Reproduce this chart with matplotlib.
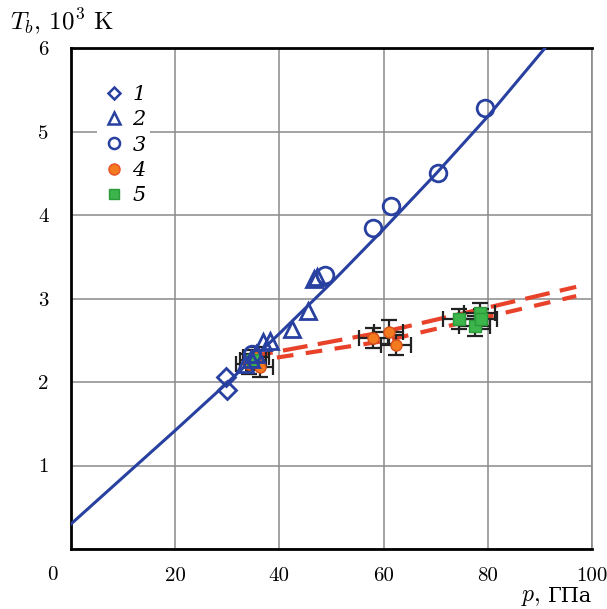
import numpy as np
import matplotlib
matplotlib.use('Agg')
import matplotlib.pyplot as plt
from matplotlib.lines import Line2D

plt.rcParams['font.family'] = ['cmr10', 'DejaVu Serif']
plt.rcParams['mathtext.fontset'] = 'cm'
plt.rcParams['axes.formatter.use_mathtext'] = True

# blue fit curve
fit_p = [0, 10, 20, 30, 40, 50, 60, 70, 80, 91]
fit_T = [0.30, 0.86, 1.42, 1.99, 2.58, 3.19, 3.83, 4.49, 5.18, 6.0]

# series 1 (diamonds)
p1 = [29.8, 29.9]
T1 = [2.06, 1.90]
# series 2 (triangles)
p2 = [33.5, 34.6, 35.5, 36.8, 38.3, 42.4, 45.5, 46.6, 47.3]
T2 = [2.22, 2.28, 2.33, 2.48, 2.49, 2.63, 2.85, 3.24, 3.26]
# series 3 (open circles)
p3 = [34.8, 48.8, 58.0, 61.4, 70.4, 79.5]
T3 = [2.34, 3.28, 3.85, 4.11, 4.50, 5.28]
# series 4 (orange, with errors)
p4 = [34.2, 35.5, 36.3, 58.0, 61.0, 62.4]
T4 = [2.22, 2.30, 2.18, 2.53, 2.60, 2.44]
p4_err = [2.5, 2.5, 2.5, 2.8, 2.8, 2.8]
T4_err = [0.12, 0.12, 0.12, 0.12, 0.14, 0.12]
# series 5 (green, with errors)
p5 = [35.0, 74.5, 77.5, 78.5, 78.7]
T5 = [2.26, 2.75, 2.67, 2.83, 2.76]
p5_err = [2.5, 3.0, 3.0, 3.0, 3.0]
T5_err = [0.12, 0.12, 0.12, 0.12, 0.12]

# red dashed curves
dashA_p = [34, 60, 97]
dashA_T = [2.30, 2.60, 3.14]
dashB_p = [34, 60, 97]
dashB_T = [2.24, 2.49, 3.03]

blue = '#2840a0'
red = '#e8432a'
orange = '#f47a20'
green = '#3cb54a'

fig = plt.figure(figsize=(6.07, 6.09), dpi=100)
ax = fig.add_axes([0.117, 0.0985, 0.858, 0.8225])

ax.plot(fit_p, fit_T, color=blue, lw=2.2, zorder=3)
ax.plot(dashA_p, dashA_T, color=red, lw=3, dashes=(6, 2.5), zorder=3)
ax.plot(dashB_p, dashB_T, color=red, lw=3, dashes=(4, 3), zorder=3)

ax.errorbar(p4, T4, xerr=p4_err, yerr=T4_err, fmt='o', ms=8,
            mfc=orange, mec='#d8501a', ecolor='#222222', elinewidth=1.6,
            capsize=6, capthick=1.6, zorder=4)
ax.errorbar(p5, T5, xerr=p5_err, yerr=T5_err, fmt='s', ms=8,
            mfc=green, mec='#2a9a3a', ecolor='#222222', elinewidth=1.6,
            capsize=6, capthick=1.6, zorder=4)

ax.plot(p1, T1, 'D', ms=9, mfc='none', mec=blue, mew=2, zorder=5)
ax.plot(p2, T2, '^', ms=11, mfc='none', mec=blue, mew=2, zorder=5)
ax.plot(p3, T3, 'o', ms=12, mfc='none', mec=blue, mew=2, zorder=5)

ax.set_xlim(0, 100)
ax.set_ylim(0, 6)
ax.set_xticks([0, 20, 40, 60, 80, 100])
ax.set_xticklabels(['', '20', '40', '60', '80', '100'], fontsize=15)
ax.set_yticks([0, 1, 2, 3, 4, 5, 6])
ax.set_yticklabels(['', '1', '2', '3', '4', '5', '6'], fontsize=15)
ax.tick_params(axis='y', length=0, pad=16)
ax.tick_params(axis='x', length=0, pad=13)
ax.grid(True, color='#8a8a8a', lw=1.1)
ax.set_axisbelow(True)
for side in ['left', 'bottom', 'top']:
    ax.spines[side].set_linewidth(2)
ax.spines['right'].set_color('#8a8a8a')
ax.spines['right'].set_linewidth(1.2)

fig.text(52 / 607, 1 - 575 / 609, '0', fontsize=15, ha='center', va='center')
fig.text(10 / 607, 1 - 22 / 609, r'$T_b$, $10^3$ K', fontsize=18, ha='left', va='center')
unit = fig.text(592 / 607, 1 - 597 / 609, 'ГПа', fontsize=15, ha='right', va='center',
                family='DejaVu Serif')
ax.annotate(r'$p$,', xy=(0, 0.5), xycoords=unit, xytext=(-5, 0),
            textcoords='offset points', ha='right', va='center', fontsize=17)

handles = [
    Line2D([], [], ls='none', marker='D', ms=6, mfc='none', mec=blue, mew=1.8),
    Line2D([], [], ls='none', marker='^', ms=8, mfc='none', mec=blue, mew=1.8),
    Line2D([], [], ls='none', marker='o', ms=8, mfc='none', mec=blue, mew=1.8),
    Line2D([], [], ls='none', marker='o', ms=8, mfc=orange, mec='#e8502a', mew=1),
    Line2D([], [], ls='none', marker='s', ms=7, mfc=green, mec='#2a9a3a', mew=1),
]
labels = ['1', '2', '3', '4', '5']
leg = ax.legend(handles, labels, loc='upper left', bbox_to_anchor=(0.03, 0.955),
                frameon=True, prop={'family': 'DejaVu Serif', 'style': 'italic', 'size': 15},
                handletextpad=0.3, labelspacing=0.3,
                borderpad=0.2, handlelength=1.2)
leg.get_frame().set_edgecolor('none')
leg.get_frame().set_facecolor('white')
leg.get_frame().set_alpha(1)

plt.savefig('out.png', dpi=100)
